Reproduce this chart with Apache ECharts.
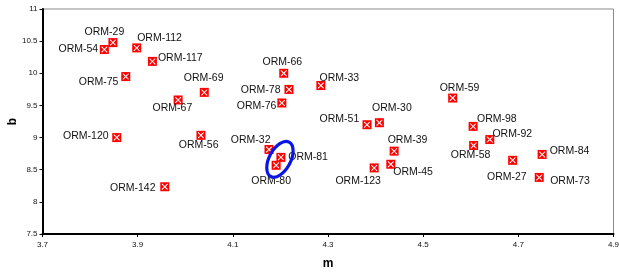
<!DOCTYPE html>
<html>
<head>
<meta charset="utf-8">
<script src="https://cdn.jsdelivr.net/npm/echarts@6/dist/echarts.min.js"></script>
<style>
html,body{margin:0;padding:0;background:#fff;}
#c{width:619px;height:273px;}
</style>
</head>
<body>
<div id="c"></div>
<script>
// ---- data ----
const names = ['ORM-29','ORM-54','ORM-112','ORM-117','ORM-75','ORM-67','ORM-69','ORM-66','ORM-78','ORM-76',
  'ORM-33','ORM-59','ORM-51','ORM-30','ORM-98','ORM-92','ORM-58','ORM-39','ORM-45','ORM-123',
  'ORM-84','ORM-27','ORM-73','ORM-120','ORM-56','ORM-142','ORM-32','ORM-81','ORM-80'];
const mValues = [3.848,3.830,3.898,3.931,3.875,3.985,4.040,4.207,4.218,4.203,
  4.285,4.562,4.382,4.408,4.605,4.640,4.606,4.439,4.432,4.397,
  4.750,4.688,4.744,3.856,4.033,3.957,4.176,4.201,4.191];
const bValues = [10.477,10.37,10.395,10.185,9.949,9.585,9.703,10.0,9.749,9.538,
  9.81,9.615,9.20,9.231,9.174,8.969,8.877,8.789,8.585,8.528,
  8.738,8.646,8.38,9.0,9.035,8.235,8.815,8.692,8.569];
const xTicks = [3.7,3.9,4.1,4.3,4.5,4.7,4.9];
const yTicks = [7.5,8,8.5,9,9.5,10,10.5,11];
const highlightCenter = [4.199, 8.662];

// ---- label placement (style only) ----
const labelOffsets = {
  'ORM-29':[-8.5,-10.7],'ORM-54':[-26,0],'ORM-112':[22.8,-10],'ORM-117':[27.9,-3.3],
  'ORM-75':[-27.2,5.7],'ORM-67':[-5.7,8.3],'ORM-69':[-0.6,-14.6],'ORM-66':[-1.4,-11],
  'ORM-78':[-28.3,0.7],'ORM-76':[-25.3,3],'ORM-33':[18.5,-7.6],'ORM-59':[6.8,-9.7],
  'ORM-51':[-27.6,-5.7],'ORM-30':[12.5,-14.7],'ORM-98':[23.7,-7.7],'ORM-92':[22.5,-5],
  'ORM-58':[-3,10],'ORM-39':[13.4,-11.4],'ORM-45':[22.3,8],'ORM-123':[-16,13.3],
  'ORM-84':[27.4,-3.7],'ORM-27':[-5.8,16.3],'ORM-73':[30.7,3.7],'ORM-120':[-30.9,-1.3],
  'ORM-56':[-2.3,9.3],'ORM-142':[-32,1.6],'ORM-32':[-18.3,-9.7],'ORM-81':[27.2,0],
  'ORM-80':[-5,16]
};

const FONT = '"Liberation Sans", Arial, sans-serif';

const pointData = names.map((n,i)=>({
  name:n, value:[mValues[i], bValues[i]],
  label:{show:true, position:'inside', offset:labelOffsets[n], formatter:n,
    color:'#111', fontSize:10.5, fontFamily:FONT, align:'center', verticalAlign:'middle'}
}));
const xData = names.map((n,i)=>[mValues[i], bValues[i]]);

const chart = echarts.init(document.getElementById('c'), null, {renderer:'canvas'});
chart.setOption({
  animation:false,
  backgroundColor:'#fff',
  grid:{left:42.5, right:5.5, top:9, bottom:39, show:true, borderColor:'#8a8a8a', borderWidth:1,
    containLabel:false, outerBoundsMode:'none'},
  xAxis:{
    type:'value', min:xTicks[0], max:xTicks[xTicks.length-1], interval:0.2,
    name:'m', nameLocation:'middle', nameGap:24, nameMoveOverlap:false,
    nameTextStyle:{fontSize:12, fontWeight:'bold', fontFamily:FONT, color:'#000'},
    axisLine:{show:true, onZero:false, lineStyle:{color:'#000', width:2}},
    axisTick:{show:true, length:3, inside:false, lineStyle:{color:'#000'}},
    axisLabel:{fontSize:8, fontFamily:FONT, color:'#111', margin:7,
      formatter:v=>{const t=xTicks.find(k=>Math.abs(k-v)<1e-6); return t===undefined?'':String(t);}},
    splitLine:{show:false}
  },
  yAxis:{
    type:'value', min:yTicks[0], max:yTicks[yTicks.length-1], interval:0.5,
    name:'b', nameLocation:'middle', nameGap:24, nameRotate:90, nameMoveOverlap:false,
    nameTextStyle:{fontSize:12, fontWeight:'bold', fontFamily:FONT, color:'#000'},
    axisLine:{show:true, onZero:false, lineStyle:{color:'#000', width:2}},
    axisTick:{show:true, length:3, inside:false, lineStyle:{color:'#000'}},
    axisLabel:{fontSize:8, fontFamily:FONT, color:'#111', margin:5,
      formatter:v=>{const t=yTicks.find(k=>Math.abs(k-v)<1e-6); return t===undefined?'':String(t);}},
    splitLine:{show:false}
  },
  series:[
    {
      type:'scatter', data:pointData, symbol:'rect', symbolSize:9,
      itemStyle:{color:'#ff0000', opacity:1}, z:3, silent:true
    },
    {
      type:'scatter', data:xData,
      symbol:'path://M0,0 L1.2,0 L5,3.8 L8.8,0 L10,0 L10,1.2 L6.2,5 L10,8.8 L10,10 L8.8,10 L5,6.2 L1.2,10 L0,10 L0,8.8 L3.8,5 L0,1.2 Z',
      symbolSize:6, itemStyle:{color:'#ffffff', opacity:1}, z:4, silent:true
    },
    {
      type:'custom', data:[highlightCenter], z:5, silent:true,
      renderItem:function(params, api){
        const p = api.coord([api.value(0), api.value(1)]);
        return {type:'ellipse', x:p[0], y:p[1], rotation:-0.49,
          shape:{cx:0, cy:0, rx:10.7, ry:19.5},
          style:{fill:'none', stroke:'#0a14e6', lineWidth:3.2}};
      }
    }
  ]
});
</script>
</body>
</html>
